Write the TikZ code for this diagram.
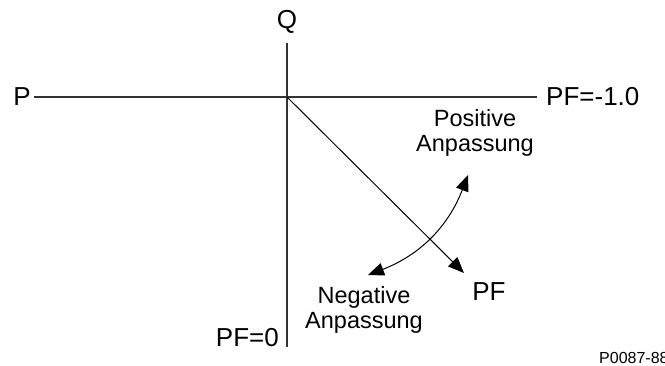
\documentclass[tikz,border=0pt]{standalone}
\usepackage{fontspec}
\setmainfont{Liberation Sans}
\usetikzlibrary{positioning,arrows.meta,calc}

\begin{document}
\begin{tikzpicture}[x=1pt, y=-1pt,
  >={Triangle[length=16pt,width=13pt]},
  axis/.style={draw=black!80, line width=1.3pt},
  lbl/.style={font=\fontsize{26}{28}\selectfont, inner sep=0pt},
  note/.style={font=\fontsize{23.5}{25}\selectfont, align=center, inner sep=0pt}]
  \useasboundingbox (0,0) rectangle (665,365);
  \coordinate (o) at (287,97);
  \node[lbl] (p)   at (22,97)  {P};
  \node[lbl] (q)   at (287,22) {Q};
  \node[lbl, anchor=west] (pfm) at (546,97) {PF=-1.0};
  \node[lbl, anchor=east] (pf0) at (279,338) {PF=0};
  \node[lbl] (pf)  at (489,292) {PF};
  \coordinate (left)  at (34,97);
  \coordinate (right) at (537,97);
  \coordinate (top)   at (287,43);
  \coordinate (bot)   at (287,347);
  \draw[axis] (left) -- (right);
  \draw[axis] (top) -- (bot);
  % Anpassung
  \node[note] (pos) at (475,133) {Positive\\Anpassung};
  \node[note] (neg) at (364,310) {Negative\\Anpassung};
  \coordinate (up) at (468,175);
  \coordinate (dn) at (368,275);
  \coordinate (tip) at (464,273);
  \draw[line width=1pt, ->] (o) -- (tip);
  \draw[line width=1pt, <->] (up) to[bend left=24] (dn);
  \node[font=\fontsize{16}{18}\selectfont, anchor=base west, inner sep=0pt] (code) at (599,363) {P0087-88};
\end{tikzpicture}
\end{document}
